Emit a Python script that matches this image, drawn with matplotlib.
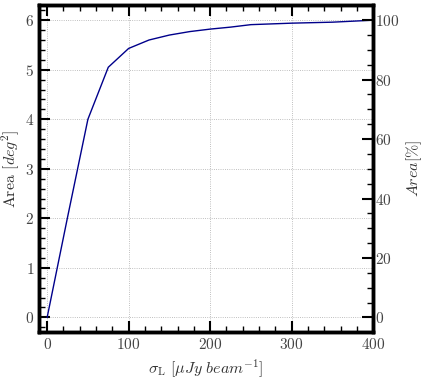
import matplotlib
matplotlib.use('Agg')
import matplotlib.pyplot as plt
from matplotlib.ticker import MultipleLocator

plt.rcParams['font.family'] = 'serif'
plt.rcParams['font.serif'] = ['cmr10', 'DejaVu Serif']
plt.rcParams['mathtext.fontset'] = 'cm'
plt.rcParams['axes.formatter.use_mathtext'] = True

# noise level vs covered area
sigma = [0, 25, 50, 75, 100, 125, 150, 175, 200, 225, 250, 300, 350, 400]
area = [0.0, 2.02, 4.0, 5.05, 5.43, 5.6, 5.7, 5.77, 5.82, 5.86, 5.91, 5.94, 5.96, 6.0]
area_max = 6.0

fig = plt.figure(figsize=(4.24, 3.81), dpi=100)
ax = fig.add_axes([0.092, 0.128, 0.788, 0.858])
ax.plot(sigma, area, color='darkblue', lw=1)
ax.set_xlim(-10, 400)
ax.set_ylim(-0.3, 6.3)
ax.grid(True, ls=':', color='#aaaaaa', lw=0.6)
ax.set_xlabel(r'$\sigma_{\rm L}$ $[\mu Jy\ beam^{-1}]$', fontsize=11.5, color='#333333')
ax.set_ylabel(r'Area $[deg^2]$', fontsize=11.5, labelpad=2, color='#333333')
ax.xaxis.set_major_locator(MultipleLocator(100))
ax.xaxis.set_minor_locator(MultipleLocator(20))
ax.yaxis.set_major_locator(MultipleLocator(1))
ax.yaxis.set_minor_locator(MultipleLocator(0.2))
ax.tick_params(which='major', direction='in', length=8, width=1.5, top=True,
               labelsize=11, labelcolor='#444444')
ax.tick_params(which='minor', direction='in', length=4, width=1, top=True)
ax.tick_params(axis='y', which='both', right=False)

ax2 = ax.twinx()
ax2.set_ylim(-0.3 / area_max * 100, 6.3 / area_max * 100)
ax2.set_ylabel(r'$Area [\%]$', fontsize=11.5, color='#333333')
ax2.yaxis.set_major_locator(MultipleLocator(20))
ax2.yaxis.set_minor_locator(MultipleLocator(5))
ax2.tick_params(which='major', direction='in', length=8, width=1.5, labelsize=11,
                labelcolor='#444444', pad=1)
ax2.tick_params(which='minor', direction='in', length=4, width=1)

for a in (ax, ax2):
    for s in a.spines.values():
        s.set_linewidth(2.5)

fig.savefig('out.png', dpi=100)
